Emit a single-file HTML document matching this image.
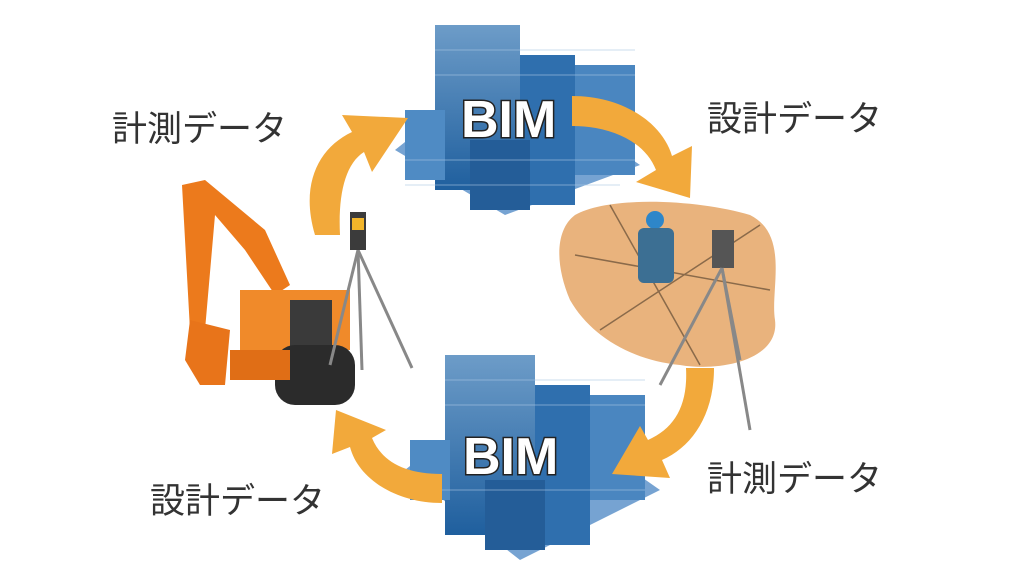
<!DOCTYPE html>
<html><head><meta charset="utf-8"><style>
html,body{margin:0;padding:0;background:#fff;width:1024px;height:574px;overflow:hidden}
svg{display:block}
.lbl{font-family:"Liberation Sans","Noto Sans CJK JP",sans-serif;font-size:35px;fill:#333}
.bim{font-family:"Liberation Sans",sans-serif;font-weight:bold;font-size:52px;fill:#fff;stroke:#222;stroke-width:3;paint-order:stroke}
</style></head><body>
<svg width="1024" height="574" viewBox="0 0 1024 574">
<defs>
<linearGradient id="bl" x1="0" y1="0" x2="0" y2="1"><stop offset="0" stop-color="#6d9cc8"/><stop offset="1" stop-color="#1f5f9e"/></linearGradient>
</defs>
<g>
<polygon points="395,150 505,215 640,165 590,130 500,180 420,130" fill="#3c7cbf" opacity="0.7"/>
<rect x="435" y="25" width="85" height="165" fill="url(#bl)"/>
<rect x="520" y="55" width="55" height="150" fill="#2f6fae"/>
<rect x="575" y="65" width="60" height="110" fill="#4a86c0"/>
<rect x="405" y="110" width="40" height="70" fill="#4f8bc4"/>
<rect x="470" y="140" width="60" height="70" fill="#245d98"/>
<g stroke="#a9c6e3" stroke-width="1" opacity="0.6">
<line x1="435" y1="50" x2="635" y2="50"/><line x1="435" y1="75" x2="635" y2="75"/><line x1="405" y1="160" x2="635" y2="160"/><line x1="405" y1="185" x2="620" y2="185"/>
</g>
<text class="bim" x="461" y="137">BIM</text>
</g>
<g>
<polygon points="405,470 520,560 660,490 610,455 520,515 430,450" fill="#3c7cbf" opacity="0.7"/>
<rect x="445" y="355" width="90" height="180" fill="url(#bl)"/>
<rect x="535" y="385" width="55" height="160" fill="#2f6fae"/>
<rect x="590" y="395" width="55" height="105" fill="#4a86c0"/>
<rect x="410" y="440" width="40" height="60" fill="#4f8bc4"/>
<rect x="485" y="480" width="60" height="70" fill="#245d98"/>
<g stroke="#a9c6e3" stroke-width="1" opacity="0.6">
<line x1="445" y1="380" x2="645" y2="380"/><line x1="445" y1="405" x2="645" y2="405"/><line x1="410" y1="490" x2="645" y2="490"/>
</g>
<text class="bim" x="463" y="474">BIM</text>
</g>
<g fill="#f2a93b">
<path d="M315,235 C300,185 318,148 352,132 L342,115 L408,118 L372,172 L364,152 C345,164 338,195 340,235 Z"/>
<path d="M572,96 C622,96 662,122 672,156 L692,146 L690,198 L636,182 L656,170 C645,142 612,126 572,126 Z"/>
<path d="M714,368 C714,415 692,447 662,460 L670,478 L612,474 L640,426 L648,440 C675,428 688,405 686,368 Z"/>
<path d="M442,503 C395,503 358,478 350,447 L332,454 L336,410 L386,430 L372,438 C382,462 405,474 442,474 Z"/>
</g>
<text class="lbl" x="112" y="141">計測データ</text>
<text class="lbl" x="707" y="131">設計データ</text>
<text class="lbl" x="707" y="491">計測データ</text>
<text class="lbl" x="150" y="513">設計データ</text>
<g>
<polygon points="182,185 205,180 265,230 290,285 275,295 245,250 215,215 205,330 190,330" fill="#ec7a1c"/>
<polygon points="190,320 230,330 225,385 200,385 185,360" fill="#e8741a"/>
<rect x="240" y="290" width="110" height="60" fill="#f08a2a"/>
<rect x="290" y="300" width="42" height="50" fill="#3a3a3a"/>
<rect x="275" y="345" width="80" height="60" rx="20" fill="#2b2b2b"/>
<rect x="230" y="350" width="60" height="30" fill="#e06e16"/>
</g>
<g stroke="#888" stroke-width="3">
<line x1="358" y1="250" x2="330" y2="365"/><line x1="358" y1="250" x2="412" y2="368"/><line x1="358" y1="250" x2="362" y2="370"/>
</g>
<rect x="350" y="212" width="16" height="38" fill="#3b3b3b"/><rect x="352" y="218" width="12" height="12" fill="#f2b52a"/>
<path d="M575,215 C610,195 700,200 750,215 C790,235 770,290 775,320 C780,360 720,372 680,365 C630,360 590,335 570,300 C555,265 555,230 575,215 Z" fill="#e9b37d"/>
<g stroke="#8a6a4a" stroke-width="1.5" fill="none">
<line x1="575" y1="255" x2="770" y2="290"/><line x1="610" y1="205" x2="700" y2="365"/><line x1="600" y1="330" x2="760" y2="225"/>
</g>
<circle cx="655" cy="220" r="9" fill="#2e86c9"/>
<rect x="638" y="228" width="36" height="55" rx="6" fill="#3c6f93"/>
<rect x="712" y="230" width="22" height="38" fill="#555"/>
<g stroke="#888" stroke-width="3">
<line x1="722" y1="268" x2="660" y2="385"/><line x1="722" y1="268" x2="750" y2="430"/><line x1="722" y1="268" x2="740" y2="360"/>
</g>
</svg>
</body></html>
